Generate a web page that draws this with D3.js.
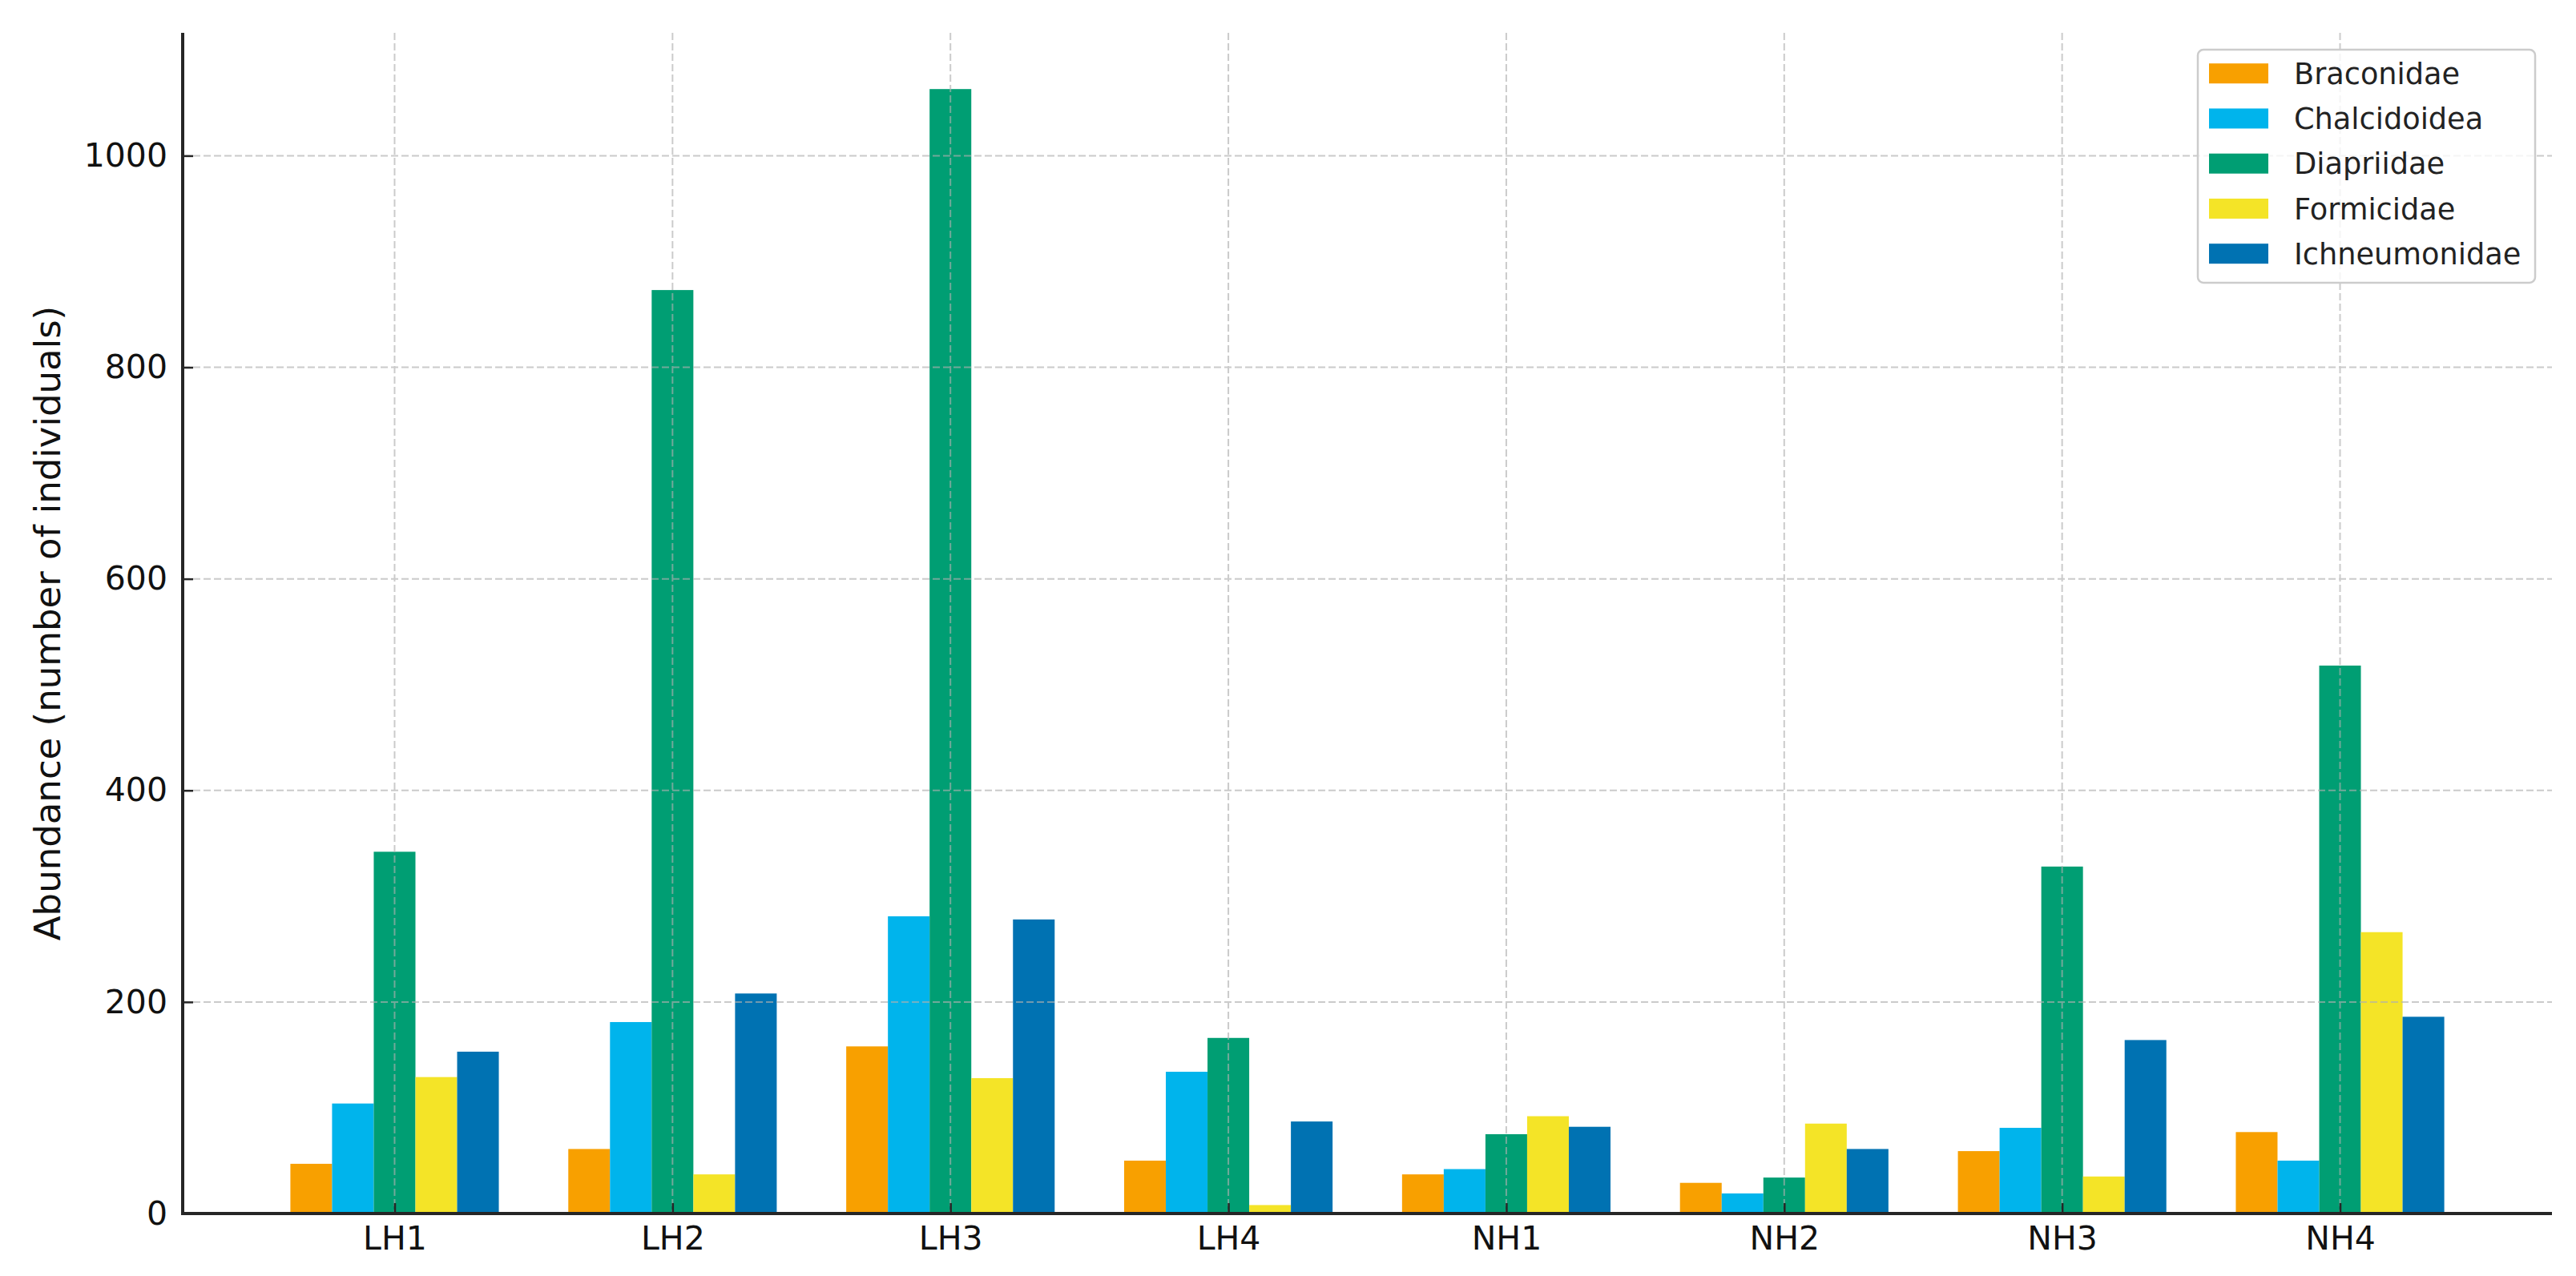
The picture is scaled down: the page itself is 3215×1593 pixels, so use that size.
<!DOCTYPE html>
<html>
<head>
<meta charset="utf-8">
<script src="https://cdn.jsdelivr.net/npm/d3@7"></script>
<style>
  html, body { margin: 0; padding: 0; background: #ffffff; }
  svg { display: block; }
  text { font-family: "DejaVu Sans", sans-serif; }
</style>
</head>
<body>
<script>
// ---- Data ----
const categories = ["LH1", "LH2", "LH3", "LH4", "NH1", "NH2", "NH3", "NH4"];
const seriesNames = ["Braconidae", "Chalcidoidea", "Diapriidae", "Formicidae", "Ichneumonidae"];
const braconidae    = [47, 61, 158, 50, 37, 29, 59, 77];
const chalcidoidea  = [104, 181, 281, 134, 42, 19, 81, 50];
const diapriidae    = [342, 873, 1063, 166, 75, 34, 328, 518];
const formicidae    = [129, 37, 128, 8, 92, 85, 35, 266];
const ichneumonidae = [153, 208, 278, 87, 82, 61, 164, 186];
const yTickValues = [0, 200, 400, 600, 800, 1000];
const yLabel = "Abundance (number of individuals)";
const seriesColors = ["#F8A000", "#00B4EC", "#009E73", "#F4E427", "#0072B2"];

const seriesValues = [braconidae, chalcidoidea, diapriidae, formicidae, ichneumonidae];

// ---- Layout ----
const W = 3215, H = 1593;
const plotL = 228, plotR = 3185, plotT = 41, plotB = 1515;
const barW = 0.15;

const svg = d3.select("body").append("svg").attr("width", W).attr("height", H);
svg.append("rect").attr("width", W).attr("height", H).attr("fill", "#ffffff");

const n = categories.length;
const xMin = -2.5 * barW, xMax = (n - 1) + 2.5 * barW;
const xPad = (xMax - xMin) * 0.05;
const x = d3.scaleLinear().domain([xMin - xPad, xMax + xPad]).range([plotL, plotR]);
const maxVal = d3.max(seriesValues.flat());
const y = d3.scaleLinear().domain([0, maxVal * 1.05]).range([plotB, plotT]);

// ---- Bars ----
const barData = [];
seriesValues.forEach((vals, s) => {
  vals.forEach((v, i) => barData.push({ s, i, v }));
});
svg.append("g").selectAll("rect").data(barData).join("rect")
  .attr("x", d => x(d.i + (d.s - 2) * barW - barW / 2))
  .attr("width", d => x(d.i + (d.s - 2) * barW + barW / 2) - x(d.i + (d.s - 2) * barW - barW / 2))
  .attr("y", d => y(d.v))
  .attr("height", d => y(0) - y(d.v))
  .attr("fill", d => seriesColors[d.s]);

// ---- Grid (drawn above bars, like matplotlib default) ----
const grid = svg.append("g").attr("stroke", "#b0b0b0").attr("stroke-width", 2)
  .attr("stroke-dasharray", "9,4").attr("opacity", 0.65);
grid.selectAll("line.h").data(yTickValues.filter(t => t > 0)).join("line")
  .attr("class", "h")
  .attr("x1", plotL).attr("x2", plotR)
  .attr("y1", d => y(d)).attr("y2", d => y(d));
grid.selectAll("line.v").data(d3.range(n)).join("line")
  .attr("class", "v")
  .attr("y1", plotT).attr("y2", plotB)
  .attr("x1", d => x(d)).attr("x2", d => x(d));

// ---- Axes ----
const yAxis = d3.axisLeft(y).tickValues(yTickValues).tickFormat(d3.format("d"))
  .tickSizeInner(-13).tickSizeOuter(0).tickPadding(19);
const gy = svg.append("g").attr("transform", `translate(${plotL},0)`).call(yAxis);
gy.select(".domain").attr("stroke", "#262626").attr("stroke-width", 4);
gy.selectAll(".tick line").attr("stroke", "#262626").attr("stroke-width", 2.5);
gy.selectAll(".tick text").attr("font-size", 41).attr("fill", "#111")
  .attr("font-family", "DejaVu Sans");

const xAxis = d3.axisBottom(x).tickValues(d3.range(n)).tickFormat(i => categories[i])
  .tickSizeInner(-13).tickSizeOuter(0).tickPadding(16);
const gx = svg.append("g").attr("transform", `translate(0,${plotB})`).call(xAxis);
gx.select(".domain").attr("stroke", "#262626").attr("stroke-width", 4);
gx.selectAll(".tick line").attr("stroke", "#262626").attr("stroke-width", 2.5);
gx.selectAll(".tick text").attr("font-size", 41).attr("fill", "#111")
  .attr("font-family", "DejaVu Sans");

// spines span the full axes area
gy.select(".domain").attr("d", `M0,${plotT}V${plotB}`);
gx.select(".domain").attr("d", `M${plotL - 2},0H${plotR}`);

// ---- Y label ----
svg.append("text")
  .attr("transform", `translate(75,${(plotT + plotB) / 2}) rotate(-90)`)
  .attr("text-anchor", "middle")
  .attr("font-size", 45)
  .attr("fill", "#111")
  .text(yLabel);

// ---- Legend ----
const lg = svg.append("g");
lg.append("rect")
  .attr("x", 2743).attr("y", 62).attr("width", 421).attr("height", 291)
  .attr("rx", 7).attr("ry", 7)
  .attr("fill", "#ffffff").attr("fill-opacity", 0.8)
  .attr("stroke", "#cccccc").attr("stroke-width", 2.5);
const items = lg.selectAll("g.item").data(seriesNames).join("g")
  .attr("class", "item")
  .attr("transform", (d, i) => `translate(2757,${91.7 + i * 56.25})`);
items.append("rect").attr("x", 0).attr("y", -12.5).attr("width", 74).attr("height", 25)
  .attr("fill", (d, i) => seriesColors[i]);
items.append("text").attr("x", 106).attr("y", 0).attr("dy", "0.36em")
  .attr("font-size", 36.7).attr("fill", "#222").text(d => d);
</script>
</body>
</html>
